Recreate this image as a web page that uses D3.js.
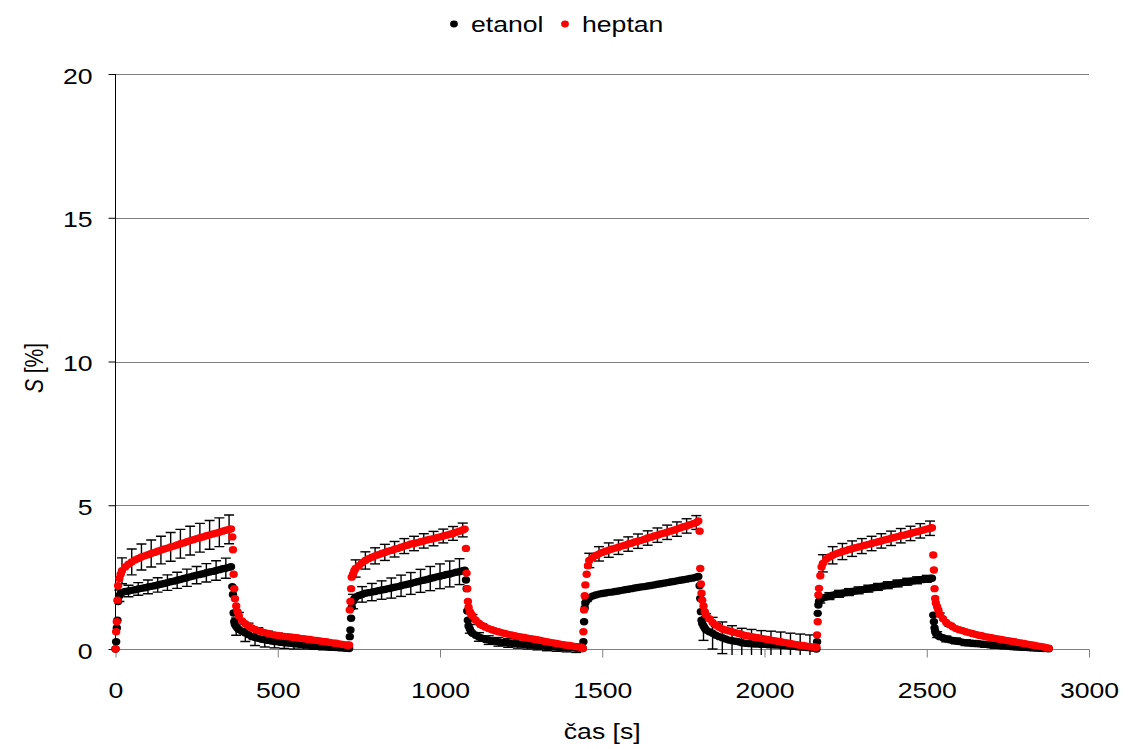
<!DOCTYPE html>
<html>
<head>
<meta charset="utf-8">
<script src="https://cdn.jsdelivr.net/npm/d3@7"></script>
<style>
  html, body { margin: 0; padding: 0; background: #fff; }
  svg { display: block; font-family: "Liberation Sans", Arial, sans-serif; }
</style>
</head>
<body>
<svg id="chart" width="1130" height="749"></svg>
<script>
// ---- data ----
const seriesNames = ["etanol", "heptan"];
const xTicks = [0, 500, 1000, 1500, 2000, 2500, 3000];
const yTicks = [0, 5, 10, 15, 20];
// start of each exposure / recovery half-cycle [s]
const segmentStarts = [0, 360, 720, 1080, 1440, 1800, 2160, 2520];
// sample times within each half-cycle [s]
const offsets = [0, 2, 4, 6, 8, 12, 16, 20, 30, 40, 50, 60, 70, 80, 90, 100, 110, 120, 130, 140,
  150, 160, 170, 180, 190, 200, 210, 220, 230, 240, 250, 260, 270, 280, 290, 300, 310, 320, 330, 340, 350, 356];

// S [%] for etanol, one row per half-cycle
const etanol = [
  [0, 0.25, 0.73, 1.0, 1.65, 1.85, 1.93, 1.97, 2.0, 2.02, 2.04, 2.06, 2.09, 2.11, 2.13, 2.16, 2.18, 2.2, 2.23, 2.25,
   2.28, 2.31, 2.34, 2.36, 2.39, 2.42, 2.45, 2.48, 2.51, 2.54, 2.57, 2.59, 2.62, 2.65, 2.68, 2.7, 2.73, 2.76, 2.79, 2.81, 2.84, 2.86],
  [2.17, 1.9, 1.25, 0.95, 0.85, 0.78, 0.72, 0.68, 0.62, 0.56, 0.5, 0.43, 0.4, 0.37, 0.34, 0.32, 0.3, 0.28, 0.26, 0.25,
   0.23, 0.22, 0.21, 0.2, 0.18, 0.17, 0.16, 0.15, 0.14, 0.13, 0.12, 0.11, 0.1, 0.09, 0.08, 0.07, 0.06, 0.05, 0.05, 0.04, 0.03, 0.03],
  [0.02, 0.43, 0.66, 1.07, 1.45, 1.65, 1.75, 1.8, 1.86, 1.9, 1.94, 1.96, 1.98, 2.0, 2.03, 2.05, 2.07, 2.1, 2.12, 2.15,
   2.17, 2.2, 2.23, 2.25, 2.28, 2.31, 2.34, 2.37, 2.39, 2.42, 2.45, 2.48, 2.51, 2.53, 2.56, 2.59, 2.61, 2.64, 2.67, 2.69, 2.72, 2.74],
  [2.4, 2.1, 1.32, 1.0, 0.8, 0.7, 0.6, 0.55, 0.48, 0.42, 0.38, 0.33, 0.31, 0.29, 0.27, 0.25, 0.23, 0.22, 0.21, 0.2,
   0.19, 0.18, 0.17, 0.16, 0.15, 0.14, 0.13, 0.12, 0.11, 0.1, 0.09, 0.08, 0.08, 0.07, 0.06, 0.05, 0.05, 0.04, 0.04, 0.03, 0.03, 0.03],
  [0.02, 0.25, 0.95, 1.43, 1.6, 1.7, 1.76, 1.78, 1.84, 1.88, 1.91, 1.93, 1.95, 1.97, 1.98, 2.0, 2.02, 2.04, 2.06, 2.08,
   2.1, 2.12, 2.14, 2.16, 2.17, 2.19, 2.21, 2.23, 2.25, 2.27, 2.29, 2.31, 2.33, 2.35, 2.37, 2.39, 2.41, 2.43, 2.45, 2.47, 2.5, 2.52],
  [2.2, 1.76, 1.3, 1.0, 0.89, 0.8, 0.72, 0.66, 0.6, 0.55, 0.48, 0.43, 0.39, 0.35, 0.31, 0.29, 0.27, 0.25, 0.22, 0.2,
   0.19, 0.18, 0.17, 0.17, 0.16, 0.16, 0.15, 0.15, 0.14, 0.14, 0.13, 0.12, 0.11, 0.1, 0.09, 0.08, 0.07, 0.06, 0.05, 0.04, 0.03, 0.03],
  [0, 0.25, 1.24, 1.53, 1.65, 1.72, 1.76, 1.78, 1.81, 1.84, 1.87, 1.9, 1.92, 1.94, 1.96, 1.98, 2.0, 2.02, 2.04, 2.06,
   2.08, 2.1, 2.12, 2.14, 2.16, 2.18, 2.2, 2.22, 2.24, 2.26, 2.28, 2.3, 2.32, 2.34, 2.36, 2.37, 2.39, 2.41, 2.42, 2.44, 2.45, 2.46],
  [1.18, 0.95, 0.73, 0.62, 0.55, 0.5, 0.46, 0.43, 0.39, 0.35, 0.32, 0.3, 0.28, 0.26, 0.24, 0.22, 0.21, 0.2, 0.19, 0.18,
   0.17, 0.16, 0.15, 0.14, 0.13, 0.12, 0.11, 0.11, 0.1, 0.09, 0.08, 0.07, 0.07, 0.06, 0.05, 0.05, 0.04, 0.03, 0.03, 0.02, 0.02, 0.01]
];

// S [%] for heptan, one row per half-cycle
const heptan = [
  [0, 0.6, 0.95, 1.7, 2.2, 2.45, 2.6, 2.72, 2.85, 2.95, 3.03, 3.1, 3.15, 3.2, 3.24, 3.28, 3.32, 3.36, 3.4, 3.44,
   3.48, 3.51, 3.55, 3.58, 3.62, 3.66, 3.69, 3.73, 3.77, 3.8, 3.84, 3.87, 3.9, 3.94, 3.97, 4.0, 4.03, 4.06, 4.1, 4.13, 4.16, 4.18],
  [3.9, 3.45, 2.6, 2.1, 1.75, 1.5, 1.3, 1.15, 0.98, 0.88, 0.8, 0.73, 0.68, 0.64, 0.6, 0.57, 0.54, 0.51, 0.49, 0.47,
   0.45, 0.44, 0.43, 0.42, 0.4, 0.39, 0.37, 0.36, 0.34, 0.33, 0.31, 0.3, 0.28, 0.26, 0.25, 0.23, 0.21, 0.2, 0.18, 0.16, 0.14, 0.13],
  [0.14, 1.36, 1.65, 2.1, 2.5, 2.6, 2.72, 2.8, 2.9, 3.0, 3.08, 3.14, 3.19, 3.24, 3.28, 3.32, 3.36, 3.4, 3.43, 3.47,
   3.5, 3.54, 3.58, 3.61, 3.65, 3.67, 3.7, 3.73, 3.76, 3.79, 3.82, 3.84, 3.87, 3.9, 3.93, 3.96, 3.99, 4.02, 4.06, 4.1, 4.14, 4.17],
  [3.5, 2.64, 2.1, 1.65, 1.45, 1.3, 1.22, 1.15, 1.0, 0.9, 0.82, 0.76, 0.71, 0.67, 0.63, 0.6, 0.57, 0.54, 0.51, 0.49,
   0.46, 0.44, 0.42, 0.4, 0.38, 0.36, 0.34, 0.32, 0.3, 0.27, 0.25, 0.23, 0.21, 0.19, 0.17, 0.15, 0.13, 0.12, 0.1, 0.08, 0.07, 0.06],
  [0.02, 0.6, 1.36, 1.85, 2.23, 2.6, 2.9, 3.08, 3.18, 3.25, 3.31, 3.36, 3.4, 3.44, 3.48, 3.51, 3.54, 3.58, 3.61, 3.65,
   3.68, 3.72, 3.75, 3.78, 3.82, 3.86, 3.89, 3.93, 3.96, 4.0, 4.03, 4.06, 4.1, 4.13, 4.17, 4.21, 4.25, 4.28, 4.32, 4.36, 4.4, 4.45],
  [4.1, 2.8, 2.26, 1.94, 1.7, 1.5, 1.3, 1.18, 1.05, 0.92, 0.83, 0.76, 0.7, 0.66, 0.63, 0.6, 0.57, 0.54, 0.51, 0.47,
   0.45, 0.43, 0.41, 0.39, 0.37, 0.35, 0.33, 0.31, 0.29, 0.27, 0.25, 0.23, 0.21, 0.19, 0.17, 0.15, 0.13, 0.12, 0.1, 0.08, 0.07, 0.06],
  [0.06, 0.49, 0.95, 1.88, 2.11, 2.55, 2.85, 2.98, 3.12, 3.2, 3.26, 3.31, 3.35, 3.39, 3.42, 3.46, 3.49, 3.52, 3.55, 3.58,
   3.61, 3.64, 3.67, 3.7, 3.73, 3.76, 3.79, 3.82, 3.85, 3.88, 3.91, 3.94, 3.96, 3.99, 4.02, 4.05, 4.08, 4.11, 4.14, 4.17, 4.2, 4.22],
  [3.27, 2.75, 2.1, 1.76, 1.6, 1.47, 1.35, 1.2, 1.05, 0.92, 0.84, 0.77, 0.71, 0.67, 0.64, 0.6, 0.57, 0.54, 0.51, 0.48,
   0.46, 0.43, 0.41, 0.39, 0.37, 0.35, 0.33, 0.31, 0.29, 0.27, 0.25, 0.23, 0.21, 0.19, 0.17, 0.15, 0.13, 0.11, 0.09, 0.07, 0.04, 0.03]
];

// error bars (standard deviation, S [%]) at selected sample times of each half-cycle
const etanolErrOffsets = [12, 40, 70, 100, 130, 160, 190, 220, 250, 280, 310, 340];
const heptanErrOffsets = [20, 50, 80, 110, 140, 170, 200, 230, 260, 290, 320, 350];
const etanolErr = [
  [0.2, 0.2, 0.22, 0.24, 0.25, 0.27, 0.28, 0.3, 0.3, 0.32, 0.34, 0.35],
  [0.3, 0.3, 0.28, 0.25, 0.22, 0.2, 0.18, 0.15, 0.13, 0.12, 0.1, 0.1],
  [0.25, 0.27, 0.3, 0.32, 0.35, 0.37, 0.38, 0.4, 0.42, 0.43, 0.45, 0.45],
  [0.15, 0.15, 0.15, 0.15, 0.15, 0.15, 0.15, 0.15, 0.15, 0.15, 0.15, 0.15],
  [0.05, 0.05, 0.05, 0.05, 0.05, 0.05, 0.05, 0.05, 0.05, 0.05, 0.05, 0.05],
  [0.5, 0.55, 0.55, 0.52, 0.5, 0.5, 0.48, 0.47, 0.46, 0.45, 0.45, 0.45],
  [0.12, 0.12, 0.12, 0.12, 0.12, 0.12, 0.12, 0.12, 0.12, 0.12, 0.12, 0.12],
  [0.1, 0.1, 0.1, 0.1, 0.1, 0.1, 0.1, 0.1, 0.1, 0.1, 0.1, 0.1]
];
const heptanErr = [
  [0.45, 0.45, 0.45, 0.47, 0.48, 0.5, 0.5, 0.5, 0.5, 0.5, 0.5, 0.5],
  [0.12, 0.1, 0.1, 0.08, 0.08, 0.06, 0.06, 0.05, 0.05, 0.05, 0.05, 0.05],
  [0.3, 0.3, 0.28, 0.28, 0.27, 0.26, 0.25, 0.25, 0.25, 0.24, 0.24, 0.24],
  [0.05, 0.05, 0.05, 0.05, 0.05, 0.05, 0.05, 0.05, 0.05, 0.05, 0.05, 0.05],
  [0.25, 0.25, 0.25, 0.25, 0.25, 0.25, 0.25, 0.25, 0.25, 0.25, 0.25, 0.24],
  [0.05, 0.05, 0.05, 0.05, 0.05, 0.05, 0.05, 0.05, 0.05, 0.05, 0.05, 0.05],
  [0.3, 0.3, 0.28, 0.27, 0.26, 0.25, 0.25, 0.25, 0.25, 0.25, 0.25, 0.25],
  [0.05, 0.05, 0.05, 0.05, 0.05, 0.05, 0.05, 0.05, 0.05, 0.05, 0.05, 0.05]
];

// ---- build point tables ----
function points(rows) {
  const out = [];
  rows.forEach((row, s) => row.forEach((v, i) => out.push({ t: segmentStarts[s] + offsets[i], v })));
  return out;
}
function errPoints(rows, errRows, errOffs) {
  const out = [];
  errRows.forEach((er, s) => er.forEach((e, k) => {
    const i = offsets.indexOf(errOffs[k]);
    out.push({ t: segmentStarts[s] + offsets[i], v: rows[s][i], e });
  }));
  return out;
}
const etanolPts = points(etanol), heptanPts = points(heptan);
const etanolErrPts = errPoints(etanol, etanolErr, etanolErrOffsets);
const heptanErrPts = errPoints(heptan, heptanErr, heptanErrOffsets);

// ---- layout ----
const svg = d3.select("#chart");
const pLeft = 115.5, pRight = 1089, pTop = 74, pBottom = 649;
const x = d3.scaleLinear().domain([0, 3000]).range([pLeft, pRight]);
const y = d3.scaleLinear().domain([0, 20]).range([pBottom, pTop]);
const FONT = 22;
const SX = 1.21; // horizontal stretch of the original rendering

// gridlines
svg.append("g").selectAll("line").data(yTicks.filter(d => d > 0)).join("line")
  .attr("x1", pLeft).attr("x2", pRight)
  .attr("y1", d => Math.round(y(d)) + 0.5).attr("y2", d => Math.round(y(d)) + 0.5)
  .attr("stroke", "#808080").attr("stroke-width", 1);

// x axis
const xAxis = svg.append("g").attr("transform", `translate(0,${Math.round(pBottom) + 0.5})`)
  .call(d3.axisBottom(x).tickValues(xTicks).tickSize(8).tickPadding(0).tickFormat(d3.format("d")));
xAxis.select(".domain").attr("stroke", "#808080").attr("d", `M${pLeft},0H${pRight}`);
xAxis.selectAll(".tick line").attr("stroke", "#808080");
xAxis.selectAll(".tick text").attr("font-size", FONT).attr("font-family", "Liberation Sans, Arial, sans-serif")
  .attr("fill", "#000").attr("y", 0).attr("dy", 0)
  .attr("transform", `translate(0,48.5) scale(${SX},1)`);

// y axis
const yAxis = svg.append("g").attr("transform", `translate(${pLeft},0)`)
  .call(d3.axisLeft(y).tickValues(yTicks).tickSize(7).tickPadding(16).tickFormat(d3.format("d")));
yAxis.select(".domain").attr("stroke", "#000").attr("d", `M0,${pTop}V${pBottom}`);
yAxis.selectAll(".tick line").attr("stroke", "#000");
yAxis.selectAll(".tick text").attr("font-size", FONT).attr("font-family", "Liberation Sans, Arial, sans-serif")
  .attr("fill", "#000").attr("x", 0).attr("dy", 0)
  .attr("transform", `translate(-23,9) scale(${SX},1)`);

// axis titles
svg.append("text").attr("transform", `translate(${(pLeft + pRight) / 2},739) scale(${SX},1)`)
  .attr("text-anchor", "middle").attr("font-size", FONT).text("čas [s]");
const yt = svg.append("text").attr("transform", `translate(43,368) rotate(-90) scale(1,${SX})`)
  .attr("text-anchor", "middle").attr("font-size", 21);
yt.append("tspan").attr("font-style", "italic").text("S");
yt.append("tspan").text(" [%]");

// clip for error bars
svg.append("clipPath").attr("id", "clip").append("rect")
  .attr("x", pLeft - 10).attr("y", pTop).attr("width", pRight - pLeft + 20).attr("height", pBottom - pTop + 6);

function drawErr(pts) {
  const g = svg.append("g").attr("clip-path", "url(#clip)").attr("stroke", "#000").attr("stroke-width", 1.4);
  const cap = 5;
  pts.forEach(p => {
    const cx = x(p.t), y1 = y(p.v + p.e), y2 = y(p.v - p.e);
    g.append("line").attr("x1", cx).attr("x2", cx).attr("y1", y1).attr("y2", y2);
    g.append("line").attr("x1", cx - cap).attr("x2", cx + cap).attr("y1", y1).attr("y2", y1);
    g.append("line").attr("x1", cx - cap).attr("x2", cx + cap).attr("y1", y2).attr("y2", y2);
  });
}
function drawPts(pts, color) {
  svg.append("g").selectAll("ellipse").data(pts).join("ellipse")
    .attr("cx", d => x(d.t)).attr("cy", d => y(d.v)).attr("rx", 4.2).attr("ry", 3.7).attr("fill", color);
}
drawErr(etanolErrPts);
drawPts(etanolPts, "#000");
drawErr(heptanErrPts);
drawPts(heptanPts, "#ff0000");

// legend
const legendItems = [
  { name: seriesNames[0], color: "#000", cx: 454, tx: 471 },
  { name: seriesNames[1], color: "#ff0000", cx: 565, tx: 582 }
];
const lg = svg.append("g");
legendItems.forEach(it => {
  lg.append("ellipse").attr("cx", it.cx).attr("cy", 24).attr("rx", 3.9).attr("ry", 3.4).attr("fill", it.color);
  lg.append("text").attr("transform", `translate(${it.tx},32) scale(${SX},1)`)
    .attr("font-size", FONT).text(it.name);
});
</script>
</body>
</html>
